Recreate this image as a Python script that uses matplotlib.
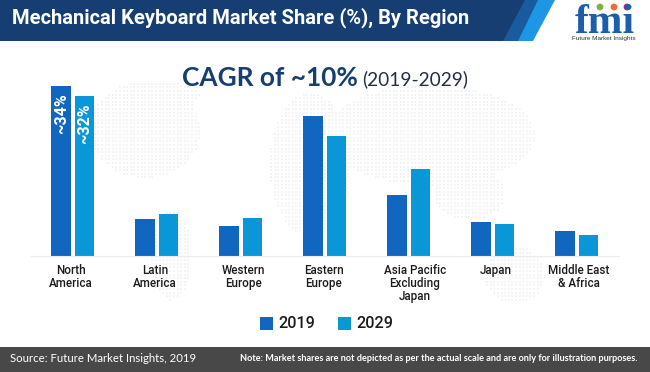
import numpy as np
import matplotlib
matplotlib.use("Agg")
import matplotlib.pyplot as plt
from matplotlib.patches import Polygon, Rectangle, Circle
from matplotlib.transforms import ScaledTranslation

W, H = 650, 372

regions = ["North\nAmerica", "Latin\nAmerica", "Western\nEurope", "Eastern\nEurope",
           "Asia Pacific\nExcluding\nJapan", "Japan", "Middle East\n& Africa"]
share_2019 = [34, 7.3, 6.0, 28.0, 12.1, 6.8, 4.9]
share_2029 = [32, 8.4, 7.6, 23.9, 17.3, 6.3, 4.1]
years = ["2019", "2029"]
C19 = "#1166c0"
C29 = "#0a97d8"
NAVY = "#163e72"
INK = "#1b1b1b"

# rough continents for the faint dotted map: centre x, centre y, half w, half h (pixels)
map_blobs = [(145, 130, 55, 48), (170, 95, 30, 12), (172, 255, 20, 45), (310, 165, 40, 72),
             (430, 135, 105, 50), (470, 195, 35, 25), (515, 275, 30, 28)]
# small nudge of each tick label off its bar pair, pixels
label_shift = [-2, -2, 2, -1, 6, 3, 2]

fig = plt.figure(figsize=(W / 100, H / 100), dpi=100, facecolor="white")

# page layer in pixel coordinates, y down
bg = fig.add_axes([0, 0, 1, 1], zorder=0)
bg.set_xlim(0, W); bg.set_ylim(H, 0); bg.axis("off")

xx, yy = np.meshgrid(np.arange(30, 620, 3.6), np.arange(55, 305, 3.6))
keep = np.zeros_like(xx, dtype=bool)
for cx, cy, hw, hh in map_blobs:
    keep |= ((xx - cx) / hw) ** 2 + ((yy - cy) / hh) ** 2 <= 1
bg.scatter(xx[keep], yy[keep], s=3, marker="s", color="#f4f4f4", linewidths=0)

# header band with slanted end
bg.add_patch(Polygon([(535, 0), (555, 0), (533, 41), (515, 41)], color="#1e96e6", lw=0))
bg.add_patch(Polygon([(522, 0), (538, 0), (518, 41), (500, 41)], color="#1a5a9e", lw=0))
bg.add_patch(Polygon([(0, 0), (525, 0), (503, 41), (0, 41)], color=NAVY, lw=0))
bg.text(12, 18, "Mechanical Keyboard Market Share (%), By Region", color="white",
        fontsize=14.5, fontweight="bold", family="Roboto", va="center", ha="left")

# logo
bg.text(605, 33, "fmi", color="#1a5fa8", fontsize=30, fontweight="bold", family="Liberation Serif",
        ha="center", va="baseline")
for x, c in [(600, "#7cb342"), (614, "#ef6c35"), (627, "#a4278f")]:
    bg.add_patch(Circle((x, 7), 3.4, color=c, lw=0))
bg.text(604, 38.5, "Future Market Insights", color="#333333", fontsize=4.6, ha="center", va="center",
        family="Liberation Sans")

# footer
bg.add_patch(Rectangle((0, 347), W, 25, color="#484848", lw=0))
bg.text(10, 358.5, "Source: Future Market Insights, 2019", color="white", fontsize=8.2,
        family="Lato", va="center")
bg.text(240, 358.5, "Note: Market shares are not depicted as per the actual scale and are only for illustration purposes.",
        color="white", fontsize=6.6, fontweight="bold", family="Lato", va="center")

bg.text(182, 78, "CAGR of ~10%", color=NAVY, fontsize=18.9, fontweight="bold", family="Lato",
        va="center", ha="left")
bg.text(362, 79, "(2019-2029)", color="#222f45", fontsize=13.8, family="Lato", va="center", ha="left")

# bars: x unit = 84 px, y unit = 5 px per percent
ax = fig.add_axes([31 / W, 1 - 255.7 / H, 588 / W, 175 / H], zorder=1)
ax.patch.set_alpha(0)
x = np.arange(len(regions))
ax.bar(x - 0.14, share_2019, width=0.235, color=C19)
ax.bar(x + 0.14, share_2029, width=0.225, color=C29)
ax.set_xlim(-0.5, 6.5)
ax.set_ylim(0, 35)
ax.set_yticks([])
ax.set_xticks(x)
ax.set_xticklabels(regions, fontsize=8.4, fontweight="medium", family="Roboto", color=INK, linespacing=1.02)
ax.tick_params(axis="x", length=0, pad=6)
for lab, dx in zip(ax.get_xticklabels(), label_shift):
    lab.set_transform(lab.get_transform() + ScaledTranslation(dx / 100, 0, fig.dpi_scale_trans))
for s in ["top", "left", "right"]:
    ax.spines[s].set_visible(False)
ax.spines["bottom"].set_color("#ececec")

ax.text(x[0] - 0.14, share_2019[0] - 1.6, f"~{share_2019[0]}%", color="white", rotation=90,
        ha="center", va="top", fontsize=11.5, fontweight="bold", family="Roboto")
ax.text(x[0] + 0.14, share_2029[0] - 1.6, f"~{share_2029[0]}%", color="white", rotation=90,
        ha="center", va="top", fontsize=11.5, fontweight="bold", family="Roboto")

# legend
for lx, c, lab in [(260, C19, years[0]), (338, C29, years[1])]:
    bg.add_patch(Rectangle((lx, 317), 13, 13, color=c, lw=0))
    bg.text(lx + 18, 323.5, lab, fontsize=11.6, fontweight="medium", family="Roboto", color=INK,
            va="center", ha="left")

fig.savefig("out.png", dpi=100, facecolor="white")
